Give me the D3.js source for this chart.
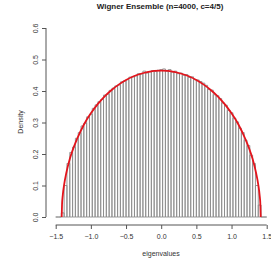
<!DOCTYPE html>
<html>
<head>
<meta charset="utf-8">
<script src="https://cdn.jsdelivr.net/npm/d3@7"></script>
<style>
  body { margin: 0; background: #fff; }
  svg { display: block; font-family: "Liberation Sans", Arial, sans-serif; }
</style>
</head>
<body>
<svg width="271" height="262"></svg>
<script>
// histogram: breaks every 0.04 from -1.5 to 1.5
var binStart = -1.5
var binWidth = 0.04
var density = [
    0, 0, 0.013, 0.100, 0.170, 0.205, 0.222, 0.250, 0.268, 0.289,
    0.298, 0.318, 0.326, 0.345, 0.356, 0.366, 0.373, 0.387, 0.390, 0.402,
    0.409, 0.416, 0.419, 0.429, 0.432, 0.436, 0.444, 0.445, 0.448, 0.455,
    0.454, 0.463, 0.457, 0.461, 0.465, 0.462, 0.466, 0.468, 0.470, 0.463,
    0.468, 0.460, 0.463, 0.455, 0.457, 0.450, 0.452, 0.443, 0.445, 0.436,
    0.435, 0.430, 0.425, 0.418, 0.405, 0.403, 0.388, 0.385, 0.376, 0.362,
    0.355, 0.338, 0.331, 0.314, 0.302, 0.282, 0.268, 0.244, 0.227, 0.196,
    0.170, 0.100, 0.038, 0, 0
]

// red density curve
var curveX = [-1.415, -1.41, -1.40, -1.38, -1.35, -1.30, -1.25, -1.2, -1.1, -1.0,
    -0.9, -0.8, -0.7, -0.6, -0.5, -0.4, -0.3, -0.2, -0.1, 0,
    0.1, 0.2, 0.3, 0.4, 0.5, 0.6, 0.7, 0.8, 0.9, 1.0,
    1.1, 1.2, 1.25, 1.30, 1.35, 1.38, 1.40, 1.41, 1.415]
var curveY = [0, 0.039, 0.068, 0.103, 0.139, 0.184, 0.218, 0.246, 0.293, 0.329,
    0.359, 0.384, 0.404, 0.421, 0.435, 0.446, 0.454, 0.460, 0.464, 0.465,
    0.464, 0.460, 0.454, 0.446, 0.435, 0.421, 0.404, 0.384, 0.359, 0.329,
    0.293, 0.246, 0.218, 0.184, 0.139, 0.103, 0.068, 0.039, 0]

var xTicks = [-1.5, -1.0, -0.5, 0.0, 0.5, 1.0, 1.5]
var yTicks = [0.0, 0.1, 0.2, 0.3, 0.4, 0.5, 0.6]

var svg = d3.select("svg")
var axisY0 = 225, axisX0 = 46

var scX = d3.scaleLinear().domain([-1.5, 1.5]).range([55.7, 266.7])
var scY = d3.scaleLinear().domain([0, 0.6]).range([217, 28])

// bars (paths so that empty bins still show as a flat line)
svg.append("g")
    .selectAll("path")
    .data(density).enter()
    .append("path")
    .attr("fill", "none").attr("stroke", "#8c8c8c").attr("stroke-width", 0.9)
    .attr("d", function (d, i) {
        var x0 = scX(binStart + i * binWidth), x1 = scX(binStart + (i + 1) * binWidth)
        var y0 = scY(0), y1 = scY(d)
        return "M" + x0 + "," + y0 + "V" + y1 + "H" + x1 + "V" + y0 + "Z"
    })

var lnMkr = d3.line().curve(d3.curveMonotoneX)
    .x(d => scX(d[0])).y(d => scY(d[1]))

svg.append("path")
    .attr("fill", "none").attr("stroke", "#e3141c").attr("stroke-width", 1.8)
    .attr("d", lnMkr(curveX.map((x, i) => [x, curveY[i]])))

// axes
var gx = svg.append("g")
    .attr("transform", `translate(0, ${axisY0})`)
    .call(d3.axisBottom(scX).tickValues(xTicks).tickSize(4).tickPadding(5)
        .tickFormat(d3.format(".1f")).tickSizeOuter(0))
var gy = svg.append("g")
    .attr("transform", `translate(${axisX0}, 0)`)
    .call(d3.axisLeft(scY).tickValues(yTicks).tickSize(4)
        .tickFormat(d3.format(".1f")).tickSizeOuter(0))

svg.selectAll(".domain, .tick line").attr("stroke", "#555")
svg.selectAll(".tick text").attr("fill", "#333").attr("font-size", 7)
    .attr("font-family", "Liberation Sans, Arial, sans-serif")
gx.select(".domain").attr("d", `M${scX(-1.5)},0H${scX(1.5)}`)
gy.select(".domain").attr("d", `M0,${scY(0)}V${scY(0.6)}`)

gy.selectAll(".tick text")
    .attr("transform", "rotate(-90)")
    .attr("text-anchor", "middle")
    .attr("x", 0).attr("y", -8).attr("dy", 0)

// labels
svg.append("text")
    .attr("x", 160).attr("y", 8.5)
    .attr("text-anchor", "middle").attr("font-weight", "bold")
    .attr("font-size", 8).attr("fill", "#222")
    .text("Wigner Ensemble (n=4000, c=4/5)")

svg.append("text")
    .attr("x", 161).attr("y", 255.5)
    .attr("text-anchor", "middle").attr("font-size", 7).attr("fill", "#333")
    .text("eigenvalues")

svg.append("text")
    .attr("transform", "translate(23, 122) rotate(-90)")
    .attr("text-anchor", "middle").attr("font-size", 7).attr("fill", "#333")
    .text("Density")
</script>
</body>
</html>
